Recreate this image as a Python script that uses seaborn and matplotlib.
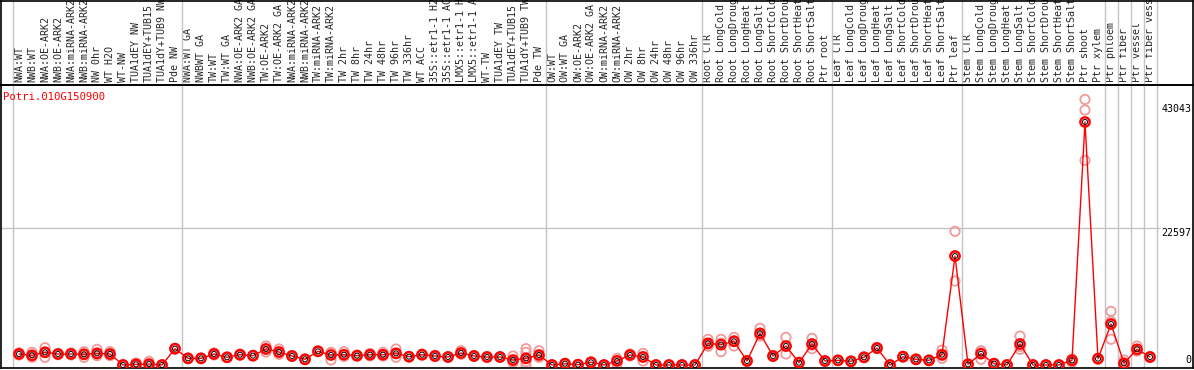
import numpy as np
import pandas as pd
import matplotlib
matplotlib.use("Agg")
import matplotlib.pyplot as plt
import seaborn as sns

# sample labels, left to right
labels = [
    "NWA:WT", "NWB:WT", "NWA:OE-ARK2", "NWB:OE-ARK2", "NWA:miRNA-ARK2", "NWB:miRNA-ARK2",
    "NW 0hr", "WT H2O", "WT-NW", "TUA1dEY NW", "TUA1dEY+TUB15", "TUA1dY+TUB9 NW", "Pde NW",
    "NWA:WT GA", "NWBWT GA", "TW:WT", "TW:WT GA", "NWA:OE-ARK2 GA", "NWB:OE-ARK2 GA",
    "TW:OE-ARK2", "TW:OE-ARK2 GA", "NWA:miRNA-ARK2", "NWB:miRNA-ARK2", "TW:miRNA-ARK2",
    "TW:miRNA-ARK2", "TW 2hr", "TW 8hr", "TW 24hr", "TW 48hr", "TW 96hr", "TW 336hr", "WT ACC",
    "35S::etr1-1 H2O", "35S::etr1-1 ACC", "LMX5::etr1-1 H2O", "LMX5::etr1-1 ACC", "WT-TW",
    "TUA1dEY TW", "TUA1dEY+TUB15", "TUA1dY+TUB9 TW", "Pde TW",
    "OW:WT", "OW:WT GA", "OW:OE-ARK2", "OW:OE-ARK2 GA", "OW:miRNA-ARK2", "OW:miRNA-ARK2",
    "OW 2hr", "OW 8hr", "OW 24hr", "OW 48hr", "OW 96hr", "OW 336hr",
    "Root CTR", "Root LongCold", "Root LongDrought", "Root LongHeat", "Root LongSalt",
    "Root ShortCold", "Root ShortDrought", "Root ShortHeat", "Root ShortSalt", "Ptr root",
    "Leaf CTR", "Leaf LongCold", "Leaf LongDrought", "Leaf LongHeat", "Leaf LongSalt",
    "Leaf ShortCold", "Leaf ShortDrought", "Leaf ShortHeat", "Leaf ShortSalt", "Ptr leaf",
    "Stem CTR", "Stem LongCold", "Stem LongDrought", "Stem LongHeat", "Stem LongSalt",
    "Stem ShortCold", "Stem ShortDrought", "Stem ShortHeat", "Stem ShortSalt", "Ptr shoot",
    "Ptr xylem", "Ptr phloem", "Ptr fiber", "Ptr vessel", "Ptr fiber vessel",
]

# mean expression per sample
means = [
    1815, 1600, 2090, 1815, 1815, 1760, 1925, 1815, 0, 110, 150, 0, 2690,
    1100, 1100, 1815, 1270, 1700, 1540, 2640, 2145, 1485, 940, 2260, 1650, 1700, 1540,
    1700, 1700, 1925, 1370, 1700, 1485, 1320, 1980, 1485, 1320, 1320, 825, 1100, 1650,
    0, 215, 50, 445, 0, 660, 1650, 1320, 0, 0, 0, 0,
    3575, 3350, 3905, 660, 5225, 1485, 3135, 385, 3465, 660,
    770, 610, 1270, 2800, 0, 1370, 940, 770, 1700, 17970,
    110, 1865, 215, 0, 3465, 0, 0, 0, 770, 40080,
    1040, 6760, 280, 2590, 1320,
]

# replicate values per sample
replicates = [
    [2030, 1650, 1760], [2090, 1265, 1450], [2855, 1265, 2150], [1900, 1700, 1850],
    [2000, 1650, 1800], [2200, 1265, 1815], [2580, 1650, 1540], [2200, 1540, 1700],
    [0, 0, 50], [330, 0, 0], [610, 0, 0], [0, 0, 0], [2750, 2640, 2690],
    [1100, 1050, 1150], [1150, 1050, 1100], [2000, 1650, 1800], [1300, 1250, 1260],
    [1800, 1600, 1700], [1600, 1500, 1520], [3135, 2145, 2640], [2640, 1760, 2035],
    [1550, 1400, 1500], [1000, 900, 920], [2300, 2200, 2280], [2030, 825, 2095],
    [2200, 1450, 1450], [1650, 1450, 1520], [1900, 1500, 1700], [2090, 1500, 1510],
    [2640, 1265, 1870], [1400, 1350, 1360], [1800, 1650, 1650], [1600, 1400, 1450],
    [1350, 1300, 1310], [2360, 1800, 1780], [1550, 1450, 1455], [1380, 1280, 1300],
    [1350, 1300, 1310], [1485, 385, 605], [2690, 2090, 550, 0], [2360, 1300, 1290],
    [0, 0, 0], [300, 150, 200], [100, 0, 50], [500, 400, 440], [0, 0, 0],
    [1100, 110, 770], [1800, 1500, 1650], [1925, 660, 1375], [0, 0, 0], [0, 0, 0],
    [0, 0, 0], [0, 0, 0],
    [4235, 3100, 3390], [4235, 2200, 3615], [4565, 3135, 4015], [700, 620, 660],
    [6050, 4800, 4825], [1550, 1400, 1500], [4565, 1815, 3025], [450, 350, 355],
    [4400, 2690, 3305], [700, 600, 680],
    [800, 750, 760], [650, 580, 600], [1350, 1200, 1260], [2900, 2700, 2800], [0, 0, 0],
    [1450, 1300, 1360], [1000, 900, 920], [820, 720, 770], [2475, 1100, 1525],
    [22050, 13850, 18010],
    [150, 100, 80], [2310, 940, 2345], [300, 150, 195], [0, 0, 0], [4780, 2580, 3035],
    [0, 0, 0], [0, 0, 0], [0, 0, 0], [1000, 445, 865], [43800, 42060, 33750],
    [1100, 1000, 1020], [8850, 4240, 7190], [825, 0, 15], [3135, 2300, 2335],
    [1400, 1250, 1310],
]

# group separators (between sample indices)
group_edges = [-0.5, 12.5, 40.5, 52.5, 62.5, 72.5, 83.5, 84.5, 85.5, 86.5, 87.5]
y_ticks = [0, 22597, 43043]
gene = "Potri.010G150900"

sns.set_style("white")
plt.rcParams["font.family"] = ["DejaVu Sans Mono", "DejaVu Sans"]

idx = np.arange(len(labels))
df_mean = pd.DataFrame({"idx": idx, "value": means})
df_rep = pd.DataFrame(
    [(i, v) for i, reps in enumerate(replicates) for v in reps], columns=["idx", "value"]
)

W, H = 1194, 370
fig = plt.figure(figsize=(W / 100, H / 100), dpi=100)
ax = fig.add_axes([0.5 / W, 2 / H, 1192.5 / W, 283 / H])
hdr = fig.add_axes([0.5 / W, 285 / H, 1192.5 / W, 84.5 / H], sharex=ax)
hdr.set_facecolor("none")

xmin = -18.5 / 13
ax.set_xlim(xmin, xmin + 1192.5 / 13)
px = 137 / 22597
ax.set_ylim(-3 / px, -3 / px + 283 / px)

for a in (ax, hdr):
    for s in a.spines.values():
        s.set_color("black")
        s.set_linewidth(1.2)
    for e in group_edges:
        a.axvline(e, color="#c4c4c4", lw=1, zorder=0)
hdr.set_yticks([])
hdr.tick_params(axis="x", bottom=False, labelbottom=False, top=False, labeltop=False)

ax.hlines(22597, xmin, (1160 - 19) / 13, color="#c4c4c4", lw=1, zorder=0)

sns.scatterplot(data=df_rep, x="idx", y="value", ax=ax, s=45, facecolor="none",
                edgecolor="#f09a9a", linewidth=1.3, legend=False, zorder=2)
sns.lineplot(data=df_mean, x="idx", y="value", ax=ax, color="red", lw=1.0, zorder=3)
sns.scatterplot(data=df_mean, x="idx", y="value", ax=ax, s=45, facecolor="none",
                edgecolor="red", linewidth=1.7, legend=False, zorder=4)
sns.scatterplot(data=df_mean, x="idx", y="value", ax=ax, s=13, facecolor="none",
                edgecolor="black", linewidth=0.7, legend=False, zorder=5)

ax.set_xticks(idx)
ax.set_xticklabels(labels, rotation=90, fontsize=7.2)
ax.tick_params(axis="x", bottom=False, labelbottom=False, top=True, labeltop=True,
               length=0, pad=2.2)
ax.set_yticks([])
ax.set_xlabel("")
ax.set_ylabel("")

ax.text(2.5 / 1192.5, 1 - 12 / 283, gene, transform=ax.transAxes, color="red",
        fontsize=7.7, ha="left", va="center")
tr = ax.get_yaxis_transform()
for v in y_ticks:
    ax.text(1191 / 1192.5, v, str(v), transform=tr, ha="right",
            va="bottom" if v == 0 else "top", fontsize=7.2, color="black")

fig.savefig("out.png", dpi=100)
